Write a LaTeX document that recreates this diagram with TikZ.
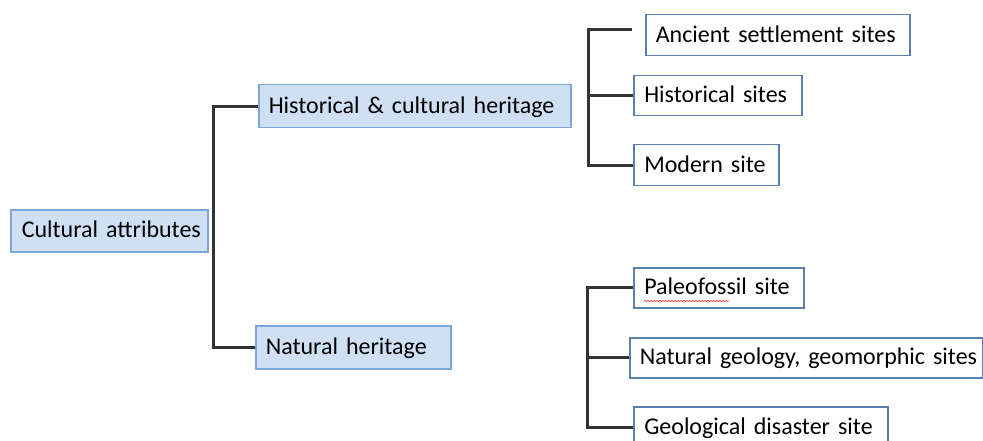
\documentclass[tikz,border=0pt]{standalone}
\usepackage{fontspec}
\setmainfont{Carlito}
\usepackage{tikz}
\usetikzlibrary{calc}
\usetikzlibrary{decorations.pathmorphing}
\definecolor{boxfill}{HTML}{CFE0F5}
\definecolor{boxline}{HTML}{7DA7D9}
\definecolor{siteline}{HTML}{5A7FAE}
\definecolor{linkgray}{HTML}{333333}
\tikzset{
	heritage/.style={draw=boxline, fill=boxfill, line width=1.5pt, anchor=north west,
		inner xsep=10pt, inner ysep=0pt, align=left, text height=19pt, text depth=5pt,
		font=\fontsize{24}{28}\selectfont},
	site/.style={heritage, draw=siteline, fill=white},
	link/.style={draw=linkgray, line width=3pt},
}

\begin{document}
\begin{tikzpicture}[x=1pt, y=-1pt]
	\useasboundingbox (0,0) rectangle (983,441);
	\node[heritage, text width=175pt, minimum height=42pt, inner xsep=11pt] (attr) at (10,209) {\mbox{Cultural attributes}};
	\node[heritage, text width=292pt, minimum height=43pt] (hist) at (258,84) {\mbox{Historical \& cultural heritage}};
	\node[heritage, text width=175pt, minimum height=43pt] (nat) at (255,325) {\mbox{Natural heritage}};
	\node[site, text width=244pt, minimum height=41pt] (anc) at (645,14) {\mbox{Ancient settlement sites}};
	\node[site, text width=147pt, minimum height=40pt, inner xsep=10.5pt] (hsite) at (633,75) {\mbox{Historical sites}};
	\node[site, text width=124pt, minimum height=41pt, inner xsep=10.5pt] (mod) at (633,144) {\mbox{Modern site}};
	\node[site, text width=149pt, minimum height=40pt, inner xsep=10.5pt] (paleo) at (633,267) {\mbox{Paleofossil site}};
	\node[site, text width=333pt, minimum height=40pt] (geo) at (629,337) {\mbox{Natural geology, geomorphic sites}};
	\node[site, text width=233pt, minimum height=42pt, inner xsep=10.5pt] (dis) at (633,406) {\mbox{Geological disaster site}};
	% cultural attributes -> heritage
	\coordinate (trunk) at ($(attr.east) + (5,0)$);
	\draw[link] (hist.west) -| (trunk) |- (nat.west);
	% historical & cultural heritage -> sites
	\coordinate (hbr) at (588,30);
	\coordinate (ancend) at (632,30);
	\draw[link] (ancend) -- (hbr) |- (mod.west);
	\draw[link] (hbr |- hsite.west) -- (hsite.west);
	% natural heritage -> sites
	\coordinate (nbr) at (587,291);
	\draw[link] (paleo.west) -| (nbr) |- (dis.west);
	\draw[link] (nbr |- geo.west) -- (geo.west);
	% spelling mark
	\draw[red!80, line width=0.6pt, decorate, decoration={snake, amplitude=0.8pt, segment length=3pt}]
		($(paleo.north west) + (11,34)$) -- ($(paleo.north west) + (96,34)$);
\end{tikzpicture}
\end{document}
